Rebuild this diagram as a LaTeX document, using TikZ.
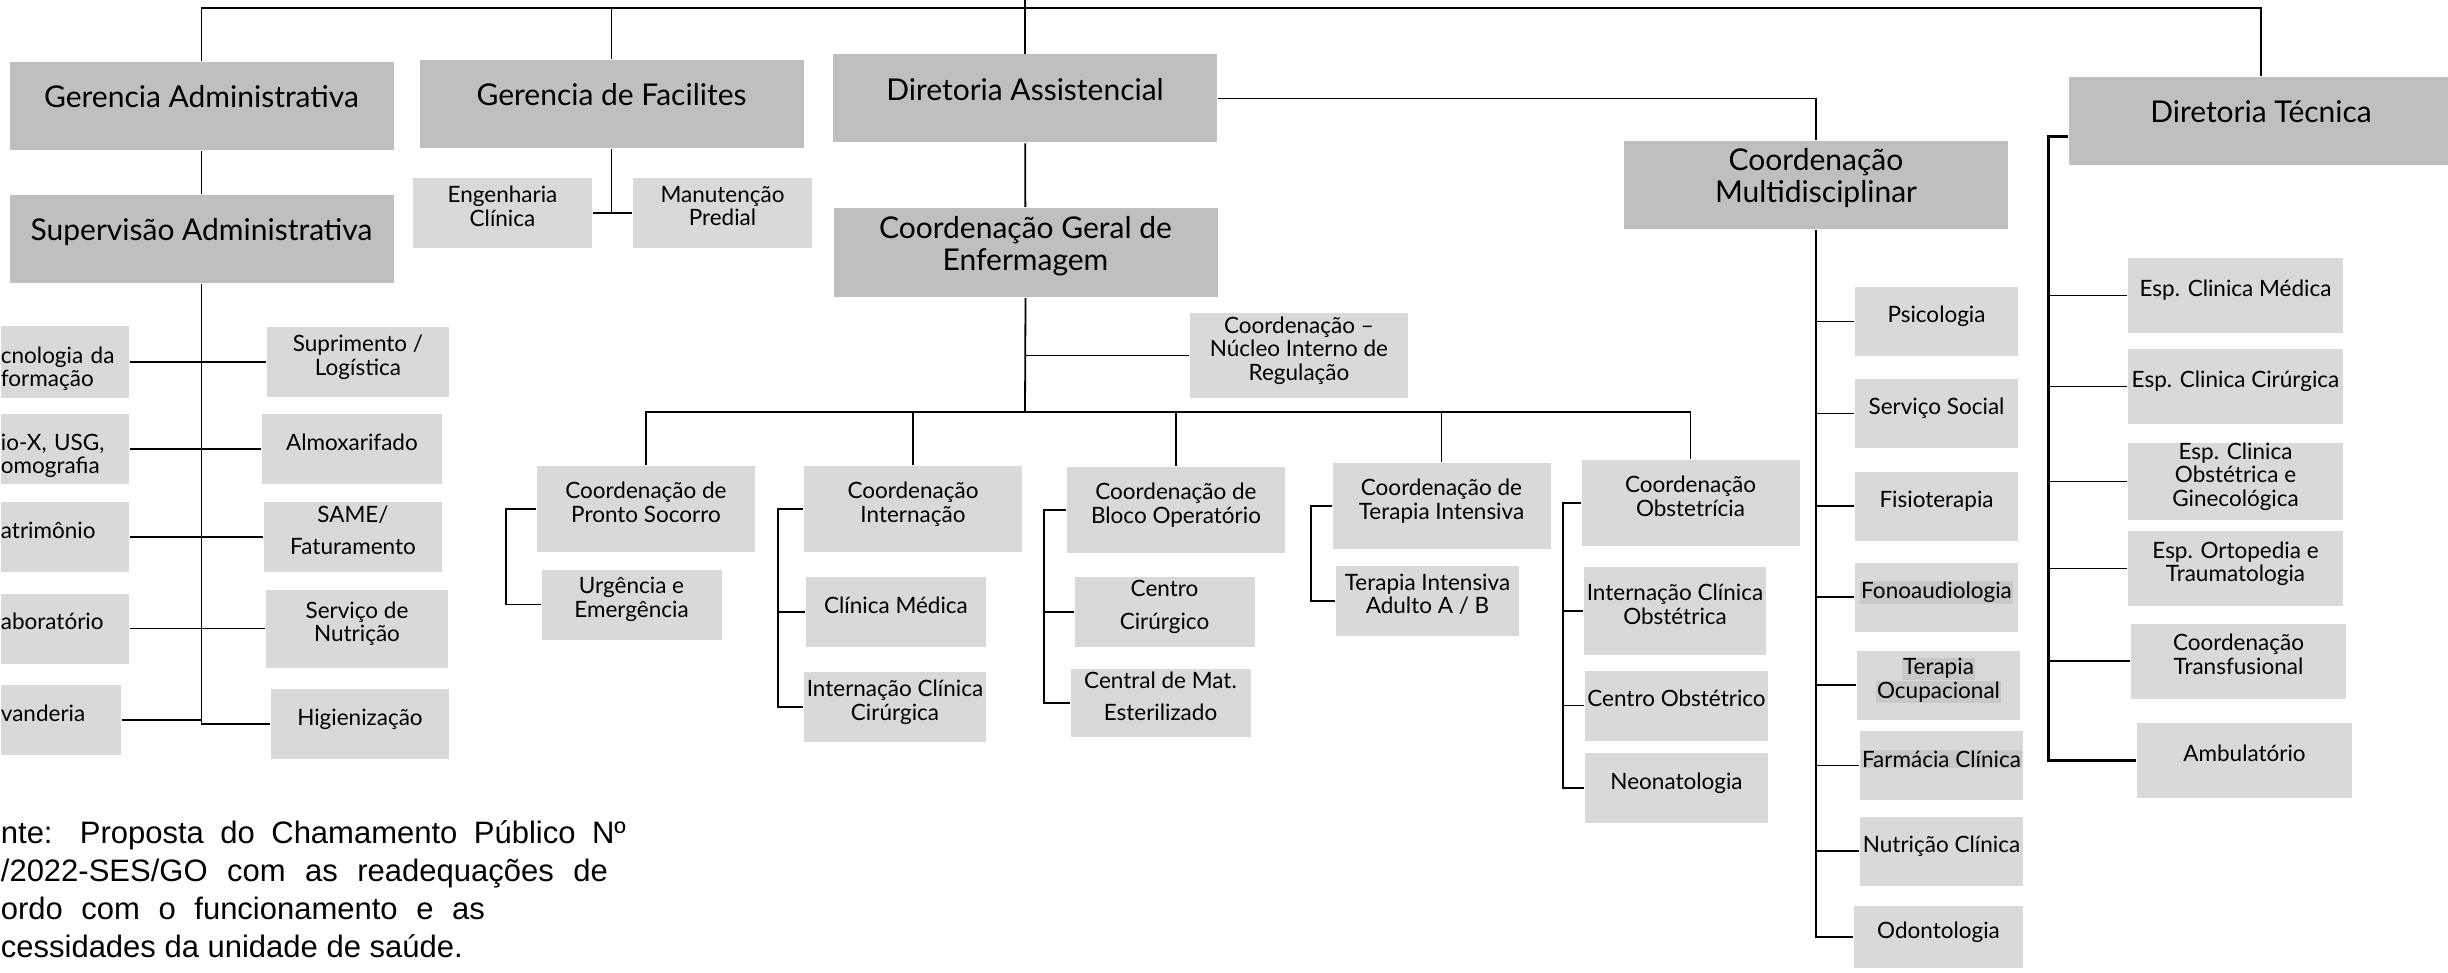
\documentclass[tikz,border=0pt]{standalone}
\usepackage{fontspec}
\setmainfont{Lato}
\newfontfamily\notefont{Liberation Sans}
\definecolor{hdrgray}{RGB}{191,191,191}
\definecolor{boxgray}{RGB}{217,217,217}
\definecolor{hlgray}{RGB}{200,200,200}
\newcommand{\bigfnt}{\fontsize{30}{32}\selectfont}
\newcommand{\smallfnt}{\fontsize{22.5}{23.5}\selectfont}
\newcommand{\notefnt}{\notefont\fontsize{31}{38}\selectfont}
\newcommand{\hlt}[1]{{\setlength{\fboxsep}{1pt}\colorbox{hlgray}{#1}}}

\begin{document}
\begin{tikzpicture}[x=1pt, y=-1pt, line width=1.8pt]
		\tikzset{hdr/.style={rectangle, fill=hdrgray, minimum width=384, minimum height=88, inner sep=0, align=center, text depth=19pt, font=\bigfnt}};
		\tikzset{unit/.style={rectangle, fill=boxgray, minimum width=180, minimum height=70, inner sep=0, align=center, text depth=14pt, font=\smallfnt}};
		\tikzset{cut/.style={unit, anchor=west, align=left, text width=128, minimum width=128}};
		\tikzset{coord/.style={unit, minimum width=218, minimum height=86}};
		\tikzset{multi/.style={unit, minimum width=163, minimum height=69}};
		\tikzset{esp/.style={unit, minimum width=215, minimum height=75}};
		\tikzset{note/.style={anchor=base west, inner sep=0, font=\notefnt}};

		\useasboundingbox (0,0) rectangle (2448,973);
		\clip (0,0) rectangle (2448,973);

		\coordinate (root) at (1025,0);
		\coordinate (topbus) at (1025,8);
		\node[hdr] (ga) at (201.5,106) {Gerencia Administrativa};
		\node[hdr] (gf) at (611.5,104) {Gerencia de Facilites};
		\node[hdr] (da) at (1025,98.5) {Diretoria Assistencial};
		\node[hdr] (dt) at (2261,121) {Diretoria Técnica};

		\node[hdr] (sa) at (201.5,239) {Supervisão Administrativa};
		\node[cut, minimum height=72] (ti) at (0,362) {cnologia da\\formação};
		\node[cut] (rx) at (0,449) {io-X, USG,\\omografia};
		\node[cut] (pat) at (0,537) {atrimônio};
		\node[cut] (lab) at (0,628.5) {aboratório};
		\node[cut, text width=120, minimum width=120] (lav) at (0,720) {vanderia};
		\node[unit, minimum width=182] (sup) at (358,362) {Suprimento /\\Logística};
		\node[unit] (alm) at (352,449) {Almoxarifado};
		\node[unit, minimum width=178] (same) at (353,537) {SAME/\\[9pt]Faturamento};
		\node[unit, minimum width=182, minimum height=78] (nut) at (357,628.5) {Serviço de\\Nutrição};
		\node[unit, minimum width=178] (hig) at (360,724) {Higienização};

		\node[unit, minimum width=179] (eng) at (502.5,213) {Engenharia\\Clínica};
		\node[unit, minimum width=179] (man) at (722.5,213) {Manutenção\\Predial};

		\node[hdr, minimum height=89] (cge) at (1025.5,252.5) {Coordenação Geral de\\Enfermagem};
		\node[unit, minimum width=218, minimum height=85] (nir) at (1299,355.5) {Coordenação –\\Núcleo Interno de\\Regulação};
		\coordinate (midbus) at (1025,412);
		\node[coord] (ps) at (646,509) {Coordenação de\\Pronto Socorro};
		\node[coord] (ci) at (913,509) {Coordenação\\Internação};
		\node[coord] (cbo) at (1176,510) {Coordenação de\\Bloco Operatório};
		\node[coord] (cti) at (1441.5,506) {Coordenação de\\Terapia Intensiva};
		\node[coord] (cob) at (1690.5,503) {Coordenação\\Obstetrícia};

		\node[unit] (urg) at (631.5,604.5) {Urgência e\\Emergência};
		\node[unit] (clm) at (896,612) {Clínica Médica};
		\node[unit, minimum width=182] (icc) at (895,707) {Internação Clínica\\Cirúrgica};
		\node[unit] (ccir) at (1164.5,612) {Centro\\[9pt]Cirúrgico};
		\node[unit, minimum height=68] (cme) at (1160.5,703) {Central de Mat.\\[8pt]Esterilizado};
		\node[unit, minimum width=183] (tia) at (1427.5,601) {Terapia Intensiva\\Adulto A / B};
		\node[unit, minimum width=182, minimum height=88] (ico) at (1675,611) {Internação Clínica\\Obstétrica};
		\node[unit, minimum width=183] (cobs) at (1676.5,705.5) {Centro Obstétrico};
		\node[unit, minimum width=183] (neo) at (1676.5,788) {Neonatologia};

		\node[hdr] (cm) at (1816,185) {Coordenação\\Multidisciplinar};
		\node[multi] (psi) at (1936.5,321.5) {Psicologia};
		\node[multi] (sso) at (1936.5,413.5) {Serviço Social};
		\node[multi] (fis) at (1936.5,506) {Fisioterapia};
		\node[multi] (fono) at (1936.5,597) {\hlt{Fonoaudiologia}};
		\node[multi] (toc) at (1938.5,685) {\hlt{Terapia}\\\hlt{Ocupacional}};
		\node[multi] (farm) at (1941.5,765.5) {\hlt{Farmácia Clínica}};
		\node[multi] (nutc) at (1941.5,851) {Nutrição Clínica};
		\node[multi, minimum width=169, minimum height=62] (odo) at (1938.5,937) {Odontologia};

		\node[esp] (ecm) at (2235.5,295.5) {Esp. Clinica Médica};
		\node[esp] (ecc) at (2235.5,386.5) {Esp. Clinica Cirúrgica};
		\node[esp] (eco) at (2235.5,481.5) {Esp. Clinica\\Obstétrica e\\Ginecológica};
		\node[esp] (eot) at (2235.5,568.5) {Esp. Ortopedia e\\Traumatologia};
		\node[esp] (ctr) at (2238.5,661) {Coordenação\\Transfusional};
		\node[esp] (amb) at (2244.5,760.5) {Ambulatório};

		\node[note] (note1) at (0,843) {\makebox[625pt][s]{nte: Proposta do Chamamento Público Nº}};
		\node[note] (note2) at (0,881) {\makebox[607pt][s]{/2022-SES/GO com as readequações de}};
		\node[note] (note3) at (0,919) {\makebox[484pt][s]{ordo com o funcionamento e as}};
		\node[note] (note4) at (0,957) {cessidades da unidade de saúde.};

		\draw (root) -- (da.north);
		\draw (ga.north) |- (topbus) -| (dt.north);
		\draw (gf.north) -- (gf.north |- topbus);
		\draw (ga) -- (sa);
		\draw (da.east) -| (cm.north);
		\draw (da) -- (cge);

		\draw (sa.south) |- (hig.west);
		\draw (ti.east) -- (sup.west);
		\draw (rx.east) -- (alm.west);
		\draw (pat.east) -- (same.west);
		\draw (lab.east) -- (nut.west);
		\draw (lav.east) -- (lav.east -| sa.south);

		\draw (gf.south) -- (gf.south |- eng.east);
		\draw (eng) -- (man);

		\draw (cge.south) -- (midbus);
		\draw (cge.south |- nir.west) -- (nir.west);
		\draw (ps.north) |- (midbus) -| (cob.north);
		\foreach \c in {ci, cbo, cti} \draw (\c.north) -- (\c.north |- midbus);

		\draw (ps.west) -- ++(-30,0) |- (urg.west);
		\draw (ci.west) -- ++(-25,0) coordinate (cil) |- (icc.west);
		\draw (cil) |- (clm.west);
		\draw (cbo.west) -- ++(-22,0) coordinate (cbol) |- (cme.west);
		\draw (cbol) |- (ccir.west);
		\draw (cti.west) -- ++(-21,0) |- (tia.west);
		\draw (cob.west) -- ++(-18,0) coordinate (cobl) |- (neo.west);
		\foreach \c in {ico, cobs} \draw (cobl) |- (\c.west);

		\draw (cm.south) |- (odo.west);
		\foreach \c in {psi, sso, fis, fono, toc, farm, nutc} \draw (cm.south |- \c.west) -- (\c.west);

		\draw[line width=3pt] ([yshift=-16pt]dt.west) -- ++(-20,0) coordinate (dtl) |- (amb.west);
		\foreach \c in {ecm, ecc, eco, eot, ctr} \draw (dtl |- \c.west) -- (\c.west);
	\end{tikzpicture}
\end{document}
